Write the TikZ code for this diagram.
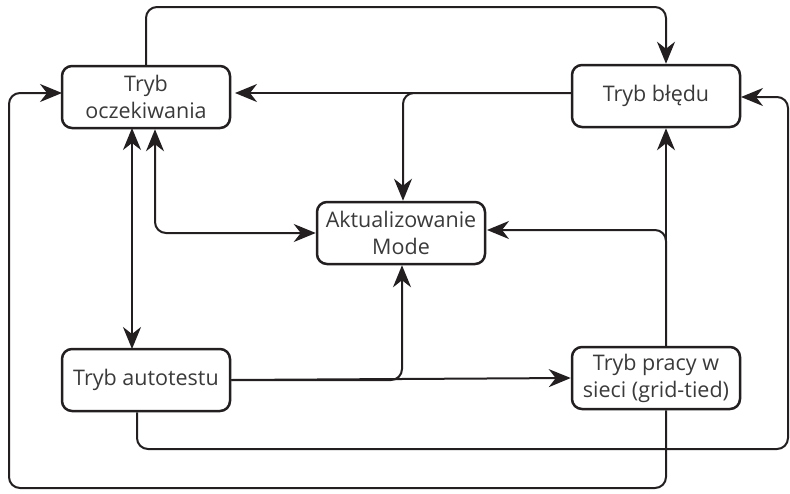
\documentclass[tikz,border=0pt]{standalone}
\usepackage{fontspec}
\setmainfont{Open Sans}
\usetikzlibrary{arrows.meta}
\definecolor{ln}{HTML}{231F20}
\definecolor{tx}{HTML}{3A3A3A}
\tikzset{
  box/.style={draw=ln, line width=2.5pt, rounded corners=10pt, minimum width=168pt, minimum height=62pt, align=center, text=tx, font=\fontsize{21.5}{27}\selectfont, inner sep=0pt},
  conn/.style={draw=ln, line width=2pt, rounded corners=11pt},
  arr/.style={conn, -{Stealth[length=22pt,width=18pt,inset=7pt]}},
  darr/.style={conn, {Stealth[length=22pt,width=18pt,inset=7pt]}-{Stealth[length=22pt,width=18pt,inset=7pt]}}
}
\begin{document}
\begin{tikzpicture}[x=1pt,y=-1pt]
\useasboundingbox (0,0) rectangle (790,493);
\node[box] (W) at (146,97) {Tryb\\oczekiwania};
\node[box] (E) at (656,96) {Tryb błędu};
\node[box] (A) at (401,233) {Aktualizowanie\\Mode};
\node[box] (S) at (146,380) {Tryb autotestu};
\node[box] (G) at (656,378) {Tryb pracy w\\sieci (grid-tied)};
\coordinate (t1) at (146,7);
\coordinate (t2) at (666,7);
% top loop W -> E
\draw[arr] (W.north) -- (t1) -- (t2) -- (E.north -| t2);
% E -> W and E -> A
\coordinate (e1) at (572,93);
\coordinate (e2) at (403,93);
\draw[arr] (e1) -- (235,93);
\draw[arr] (e1) -- (e2) -- (e2 |- A.north);
% W <-> S
\draw[darr] (132,128) -- (132,349);
% W <-> A
\coordinate (wa) at (155,233);
\draw[darr] (wa |- W.south) -- (wa) -- (A.west);
% S -> G and S -> A
\coordinate (s1) at (402,380);
\draw[arr] (S.east) -- (G.west);
\draw[arr] (S.east) -- (s1) -- (s1 |- A.south);
% G -> E and G -> A
\coordinate (g1) at (666,230);
\draw[arr] (G.north -| g1) -- (g1 |- E.south);
\draw[arr] (G.north -| g1) -- (g1) -- (487,230);
% G -> W (outer loop)
\coordinate (b1) at (666,488);
\coordinate (b2) at (9,488);
\coordinate (b3) at (9,93);
\draw[arr] (G.south -| b1) -- (b1) -- (b2) -- (b3) -- (62,93);
% S -> E (right loop)
\coordinate (r1) at (137,449);
\coordinate (r2) at (788,449);
\coordinate (r3) at (788,97);
\draw[arr] (S.south -| r1) -- (r1) -- (r2) -- (r3) -- (741,97);
\end{tikzpicture}
\end{document}
